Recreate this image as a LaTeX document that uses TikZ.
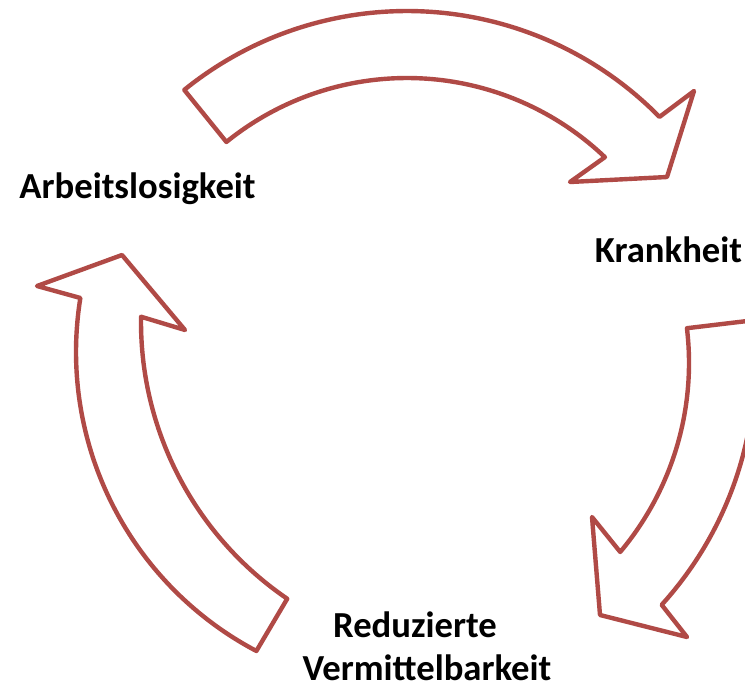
\documentclass[tikz,border=0pt]{standalone}
\usepackage{fontspec}
\setmainfont{Carlito}
\definecolor{arrowred}{RGB}{176,74,70}
\tikzset{
  blockarrow/.style={draw=arrowred, fill=white, line width=3.3pt, line join=round},
  lbl/.style={inner sep=0pt, anchor=base, font=\fontsize{27.5}{33.5}\selectfont\bfseries, text=black}
}
\begin{document}
\begin{tikzpicture}[x=0.75pt,y=-0.75pt]
\useasboundingbox (0,0) rectangle (745,689);
\clip (0,0) rectangle (745,689);
% top arrow: Arbeitslosigkeit -> Krankheit (centre 407,365)
\draw[blockarrow] ({407+354*cos(-129)},{365+354*sin(-129)})
  -- plot[domain=-129:-46.4,samples=80] ({407+287*cos(\x)},{365+287*sin(\x)})
  -- (570,182) -- (667,177) -- (694,91)
  -- plot[domain=-44.5:-129,samples=80] ({407+354*cos(\x)},{365+354*sin(\x)})
  -- cycle;
% right arrow: Krankheit -> Reduzierte Vermittelbarkeit (centre 395,363)
\draw[blockarrow] ({395+360*cos(-6.8)},{363+360*sin(-6.8)})
  -- plot[domain=-6.8:40,samples=80] ({395+294*cos(\x)},{363+294*sin(\x)})
  -- (592,517) -- (600,615) -- (687,637)
  -- plot[domain=42.2:-6.8,samples=80] ({395+360*cos(\x)},{363+360*sin(\x)})
  -- cycle;
% left arrow: Reduzierte Vermittelbarkeit -> Arbeitslosigkeit
\draw[blockarrow] ({476+335*cos(124.3)},{322+335*sin(124.3)})
  -- plot[domain=117.8:189.2,samples=80] ({414+338*cos(\x)},{352+338*sin(\x)})
  -- (37,286) -- (122,255) -- (185,330)
  -- plot[domain=180.9:124.3,samples=80] ({476+335*cos(\x)},{322+335*sin(\x)})
  -- cycle;
% labels
\node[lbl] (arb) at (137.5,198) {Arbeitslosigkeit};
\node[lbl] (krank) at (668.5,262) {Krankheit};
\node[lbl] (red) at (415,637) {Reduzierte};
\node[lbl] (verm) at (427,680) {Vermittelbarkeit};
\end{tikzpicture}
\end{document}
